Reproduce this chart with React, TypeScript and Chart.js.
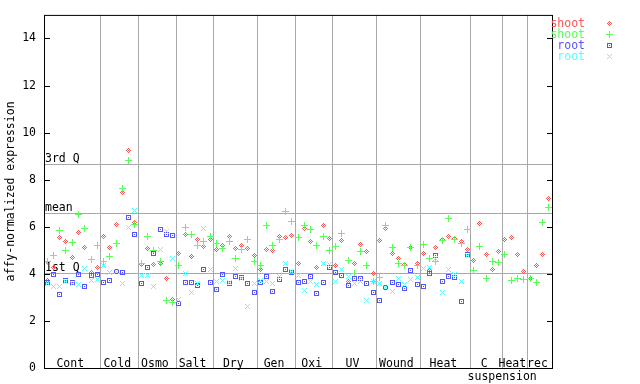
import React, { useEffect, useRef } from 'react';
import { Chart, registerables } from 'chart.js';

Chart.register(...registerables);

// ---------- data ----------
const CATEGORIES = ['Cont', 'Cold', 'Osmo', 'Salt', 'Dry', 'Gen', 'Oxi', 'UV', 'Wound', 'Heat', 'C\nsuspension', 'Heat', 'rec'];
const CATEGORY_SIZES = [9, 6, 6, 6, 7, 6, 6, 7, 7, 8, 5, 4, 4];

const SERIES_LABELS = ['shoot', 'shoot', 'root', 'root'];

const SHOOT_RED = [
  3.71, 4.25, 5.56, 5.37, 4.69, 5.75, 5.11, 4.04, 4.27,
  5.58, 5.11, 6.09, 7.44, 9.24, 6.19,
  4.40, 5.07, 4.41, 4.45, 3.80, 2.91,
  4.86, 5.66, 4.73, 5.45, 5.18, 5.47,
  5.04, 5.20, 5.58, 5.07, 5.20, 5.07, 4.77,
  4.18, 5.03, 4.99, 5.58, 5.54, 5.61,
  4.44, 5.92, 5.37, 4.27, 6.05, 5.49,
  4.35, 5.41, 3.66, 4.44, 5.24, 4.94, 4.01,
  5.42, 5.92, 4.86, 4.66, 4.39, 5.11, 4.44,
  4.86, 4.15, 5.11, 5.47, 5.58, 5.49, 5.37, 5.03,
  4.56, 6.13, 4.82, 4.18, 4.94,
  5.45, 5.54, 4.82, 4.10,
  3.81, 4.35, 4.82, 7.19,
];

const SHOOT_GREEN = [
  4.53, 4.77, 5.82, 5.00, 5.32, 6.53, 5.92, 4.62, 5.20,
  4.52, 4.73, 5.28, 7.61, 8.80, 6.09,
  4.44, 5.58, 5.00, 4.52, 2.87, 2.78,
  4.35, 5.96, 5.66, 5.20, 5.38, 5.58,
  5.28, 5.07, 5.37, 4.65, 5.03, 5.47, 4.52,
  4.35, 6.05, 5.20, 5.45, 6.64, 6.21,
  5.54, 6.05, 5.88, 5.20, 5.58, 4.99,
  5.16, 5.71, 4.56, 4.00, 4.94, 4.35, 3.69,
  3.86, 6.05, 5.11, 4.44, 4.35, 5.11, 4.35,
  5.24, 4.65, 4.52, 5.42, 6.34, 5.47, 5.28, 5.88,
  4.15, 5.16, 3.81, 4.52, 4.48,
  4.82, 3.73, 3.81, 3.77,
  3.81, 3.64, 6.19, 6.81,
];

const ROOT_BLUE = [
  3.63, 3.97, 3.14, 3.71, 3.62, 3.97, 3.47, 3.93, 3.97,
  3.63, 3.71, 4.12, 4.05, 6.38, 5.66,
  3.59, 4.27, 4.86, 5.88, 5.66, 5.62,
  2.74, 3.63, 3.63, 3.52, 4.20, 3.63,
  3.33, 3.97, 3.59, 3.88, 3.84, 3.59, 3.21,
  3.62, 3.88, 3.25, 3.76, 4.18, 4.07,
  3.63, 3.67, 3.88, 3.16, 3.63, 4.27,
  4.06, 3.93, 3.50, 3.82, 3.82, 3.59, 3.21,
  2.87, 3.43, 3.63, 3.55, 3.38, 4.15, 3.55,
  3.46, 4.01, 4.77, 3.67, 3.90, 3.86, 2.82, 4.82,
  null, null, null, null, null,
  null, null, null, null,
  null, null, null, null,
];

const ROOT_CYAN = [
  3.59, 3.45, 3.47, 3.66, 3.59, 3.53, 4.24, 3.70, 3.76,
  4.35, 4.04, 4.10, 3.59, 5.96, 6.69,
  3.94, 3.94, 3.47, 5.03, 5.78, 4.65,
  2.92, 4.01, 3.21, 3.59, 5.92, 4.20,
  3.69, 3.73, 3.64, 4.22, 3.81, 2.61, 3.59,
  3.73, 3.69, 3.59, 3.87, 4.44, 4.10,
  3.93, 3.29, 3.67, 3.55, 4.44, 4.39,
  3.67, 4.18, 3.87, 3.59, 3.66, 2.88, 3.66,
  3.59, 3.43, 3.25, 3.81, 3.55, 3.76, 3.86,
  4.22, 4.27, 4.65, 3.21, 4.19, 3.97, 3.67, 4.79,
  null, null, null, null, null,
  null, null, null, null,
  null, null, null, null,
];

const Y_TICKS = [0, 2, 4, 6, 8, 10, 12, 14];
const REF_LABELS = ['3rd Q', 'mean', '1st Q'];
const REF_VALUES = [8.65, 6.57, 4.04];
const Y_TITLE = 'affy-normalized expression';

// ---------- styles ----------
const RED = '#ff5555';
const GREEN = '#55ff55';
const BLUE = '#5555ff';
const CYAN = '#55ffff';
const GRAY = '#a8a8a8';
const FONT_FAMILY = '"DejaVu Sans Mono", monospace';
const FONT = `11.5px ${FONT_FAMILY}`;

function glyph(pattern: string[], color: string): HTMLCanvasElement {
  const c = document.createElement('canvas');
  c.width = pattern[0].length;
  c.height = pattern.length;
  const g = c.getContext('2d')!;
  g.fillStyle = color;
  pattern.forEach((row, j) => {
    for (let i = 0; i < row.length; i++) if (row[i] === 'X') g.fillRect(i, j, 1, 1);
  });
  return c;
}

const DIAMOND = ['..X..', '.X.X.', 'X.X.X', '.X.X.', '..X..'];
const PLUS = ['...X...', '...X...', '...X...', 'XXXXXXX', '...X...', '...X...', '...X...'];
const SQUARE = ['XXXXX', 'X...X', 'X.X.X', 'X...X', 'XXXXX'];
const CROSS = ['X...X', '.X.X.', '..X..', '.X.X.', 'X...X'];

function toPoints(values: (number | null)[]) {
  const pts: { x: number; y: number }[] = [];
  values.forEach((v, i) => {
    if (v !== null) pts.push({ x: i, y: v });
  });
  return pts;
}

export default function App() {
  const ref = useRef<HTMLCanvasElement | null>(null);

  useEffect(() => {
    if (!ref.current) return;
    const total = CATEGORY_SIZES.reduce((s, n) => s + n, 0);
    const glyphs = [glyph(DIAMOND, RED), glyph(PLUS, GREEN), glyph(SQUARE, BLUE), glyph(CROSS, CYAN)];
    const colors = [RED, GREEN, BLUE, CYAN];
    const seriesValues = [SHOOT_RED, SHOOT_GREEN, ROOT_BLUE, ROOT_CYAN];

    const overlay = {
      id: 'overlay',
      beforeDatasetsDraw(chart: any) {
        const { ctx, chartArea: a, scales } = chart;
        const x = scales.x;
        const y = scales.y;
        ctx.save();
        ctx.lineWidth = 1;
        ctx.strokeStyle = GRAY;
        // category separators
        let cum = 0;
        const starts: number[] = [];
        CATEGORY_SIZES.forEach((n, i) => {
          starts.push(cum);
          cum += n;
          if (i < CATEGORY_SIZES.length - 1) {
            const px = Math.round(x.getPixelForValue(cum - 0.5)) + 0.5;
            ctx.beginPath();
            ctx.moveTo(px, a.top);
            ctx.lineTo(px, a.bottom);
            ctx.stroke();
          }
        });
        // reference lines
        ctx.font = FONT;
        ctx.fillStyle = '#000';
        ctx.textAlign = 'left';
        ctx.textBaseline = 'alphabetic';
        REF_VALUES.forEach((v, i) => {
          const py = Math.round(y.getPixelForValue(v)) + 0.5;
          ctx.beginPath();
          ctx.moveTo(a.left, py);
          ctx.lineTo(a.right, py);
          ctx.stroke();
          ctx.fillText(REF_LABELS[i], a.left + 1, py - 2.5);
        });
        // category labels
        ctx.textAlign = 'center';
        CATEGORIES.forEach((label, i) => {
          const c0 = starts[i] - 0.5;
          const c1 = starts[i] + CATEGORY_SIZES[i] - 0.5;
          const cx = (x.getPixelForValue(c0) + x.getPixelForValue(c1)) / 2 - 2;
          const lines = label.split('\n');
          ctx.fillText(lines[0], cx, a.bottom - 1);
          if (lines[1]) ctx.fillText(lines[1], cx + 18, a.bottom + 12);
        });
        ctx.restore();
        ctx.save();
        ctx.imageSmoothingEnabled = false;
      },
      afterDatasetsDraw(chart: any) {
        const { ctx, chartArea: a, scales } = chart;
        ctx.restore();
        const y = scales.y;
        ctx.save();
        ctx.strokeStyle = '#000';
        ctx.lineWidth = 1;
        // frame
        ctx.strokeRect(a.left + 0.5, a.top + 0.5, a.right - a.left, a.bottom - a.top);
        // inward ticks
        Y_TICKS.forEach((t) => {
          const py = Math.round(y.getPixelForValue(t)) + 0.5;
          ctx.beginPath();
          ctx.moveTo(a.left, py);
          ctx.lineTo(a.left + 6, py);
          ctx.moveTo(a.right - 5, py);
          ctx.lineTo(a.right + 1, py);
          ctx.stroke();
        });
        // y title
        ctx.font = FONT;
        ctx.fillStyle = '#000';
        ctx.translate(11, (a.top + a.bottom) / 2);
        ctx.rotate(-Math.PI / 2);
        ctx.textAlign = 'center';
        ctx.textBaseline = 'middle';
        ctx.fillText(Y_TITLE, 0, 0);
        ctx.restore();
        // legend
        ctx.save();
        ctx.font = FONT;
        ctx.textAlign = 'right';
        ctx.textBaseline = 'alphabetic';
        ctx.imageSmoothingEnabled = false;
        SERIES_LABELS.forEach((lab, i) => {
          ctx.fillStyle = colors[i];
          ctx.fillText(lab, a.right + 33, 27.3 + 11 * i);
          const g = glyphs[i];
          ctx.drawImage(g, Math.round(a.right + 57 - g.width / 2), Math.round(23.5 + 11 * i - g.height / 2));
        });
        ctx.restore();
      },
    };

    const datasets = seriesValues.map((vals, i) => ({
      label: SERIES_LABELS[i],
      data: toPoints(vals),
      pointStyle: glyphs[i],
      pointRadius: 3,
      pointHoverRadius: 3,
      borderColor: colors[i],
      backgroundColor: colors[i],
      showLine: false,
      order: 4 - i,
    }));

    const chart = new Chart(ref.current, {
      type: 'scatter',
      data: { datasets },
      options: {
        animation: false,
        responsive: false,
        devicePixelRatio: 1,
        events: [],
        layout: { padding: { left: 0, top: 13, right: 88, bottom: 16 } },
        plugins: { legend: { display: false }, tooltip: { enabled: false } },
        scales: {
          x: {
            type: 'linear',
            display: false,
            min: -0.5,
            max: total - 0.5,
          },
          y: {
            type: 'linear',
            min: 0,
            max: 15,
            afterFit: (s: any) => {
              s.width = 44;
            },
            afterBuildTicks: (s: any) => {
              s.ticks = Y_TICKS.map((v) => ({ value: v }));
            },
            ticks: {
              padding: 8,
              color: '#000',
              font: { family: FONT_FAMILY, size: 11.5 },
              callback: (v: any) => String(v),
            },
            grid: { display: false, drawTicks: false },
            border: { display: false },
          },
        },
      },
      plugins: [overlay],
    } as any);

    return () => chart.destroy();
  }, []);

  return (
    <div style={{ position: 'fixed', left: 0, top: 0, width: 640, height: 384, background: '#fff' }}>
      <canvas ref={ref} width={640} height={384} style={{ width: 640, height: 384, display: 'block' }} />
    </div>
  );
}
